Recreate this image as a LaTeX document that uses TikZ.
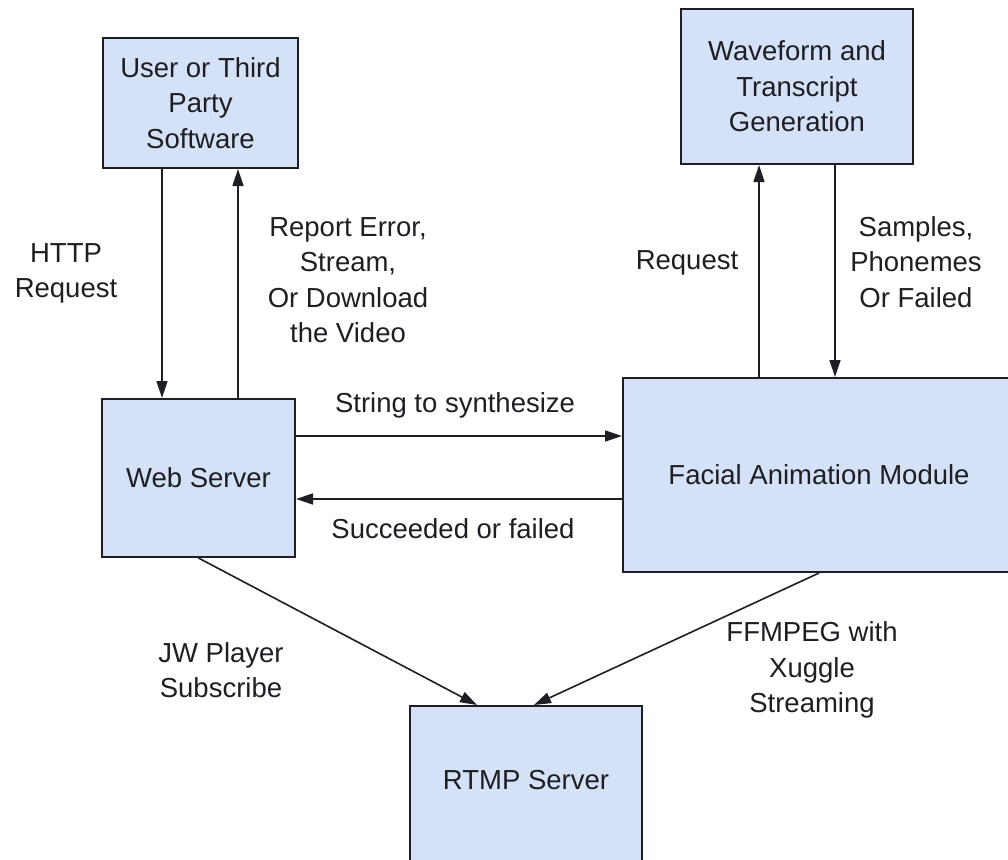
\documentclass[tikz,border=0pt]{standalone}
\usepackage{fontspec}
\setmainfont{Liberation Sans}
\usetikzlibrary{arrows.meta,calc}
\definecolor{boxfill}{RGB}{212,225,247}
\definecolor{ink}{RGB}{30,30,36}
\tikzset{
  box/.style={draw=ink, line width=2pt, fill=boxfill, align=center, text=ink, inner sep=0pt,
    font=\fontsize{27.5}{35.5}\selectfont},
  lbl/.style={align=center, text=ink, inner sep=0pt, font=\fontsize{27.5}{35.5}\selectfont},
  conn/.style={draw=ink, line width=1.6pt},
  arr/.style={conn, -{Triangle[length=17pt,width=11pt]}}
}
\begin{document}
\begin{tikzpicture}[x=1pt,y=-1pt]
\useasboundingbox (0,0) rectangle (1008,859);
\fill[white] (0,0) rectangle (1008,859);

% boxes
\node[box, minimum width=195, minimum height=130] (user) at (200.5,103) {User or Third\\Party\\Software};
\node[box, minimum width=232, minimum height=155] (wave) at (797,86.5) {Waveform and\\Transcript\\Generation};
\node[box, minimum width=193, minimum height=158] (web) at (198.5,478) {Web Server};
\node[box, minimum width=392, minimum height=194] (facial) at (819,475) {Facial Animation Module};
\node[box, minimum width=232, minimum height=174] (rtmp) at (526,793) {};
\node[lbl] (rtmplbl) at (526,780) {RTMP Server};

% helper coordinates
\coordinate (xa) at (162,0);
\coordinate (xb) at (238,0);
\coordinate (xc) at (759,0);
\coordinate (xd) at (835,0);
\coordinate (ya) at (0,436);
\coordinate (yb) at (0,499);

% connectors
\draw[arr] (user.south -| xa) -- (web.north -| xa);
\draw[arr] (web.north -| xb) -- (user.south -| xb);
\draw[arr] (facial.north -| xc) -- (wave.south -| xc);
\draw[arr] (wave.south -| xd) -- (facial.north -| xd);
\draw[arr] (web.east |- ya) -- (facial.west |- ya);
\draw[arr] (facial.west |- yb) -- (web.east |- yb);
\draw[arr] (web.south) -- ($(rtmp.north west)+(68,0)$);
\draw[arr] (facial.south) -- ($(rtmp.north west)+(125,0)$);

% labels
\node[lbl] (l1) at (66,273.5) {HTTP\\Request};
\node[lbl] (l2) at (348,280) {Report Error,\\Stream,\\Or Download\\the Video};
\node[lbl] (l3) at (687,263) {Request};
\node[lbl] (l4) at (916,262) {Samples,\\Phonemes\\Or Failed};
\node[lbl] (l5) at (455,405) {String to synthesize};
\node[lbl] (l6) at (453,529) {Succeeded or failed};
\node[lbl] (l7) at (221,670) {JW Player\\Subscribe};
\node[lbl] (l8) at (812,670) {FFMPEG with\\Xuggle\\Streaming};
\end{tikzpicture}
\end{document}
